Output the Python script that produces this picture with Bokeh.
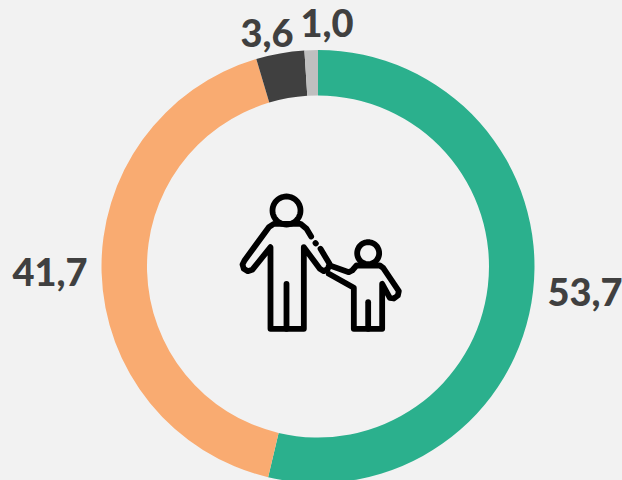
import math
from bokeh.plotting import figure
from bokeh.embed import file_html
from bokeh.resources import INLINE
from bokeh.core.properties import value
from bokeh.models import ColumnDataSource, Range1d

categories = ["A", "B", "C", "D"]
values = [53.7, 41.7, 3.6, 1.0]
labels = ["53,7", "41,7", "3,6", "1,0"]
colors = ["#2BB08D", "#F9AB71", "#404040", "#BFBFBF"]
BG = "#F2F2F2"
W, H = 622, 480
cx, cy, r_out, r_in = 317.5, 266, 216.5, 171
label_x = [547, 12, 240, 300]
label_y = [291, 271, 32, 22]

p = figure(width=W, height=H, output_backend="svg", toolbar_location=None,
           x_range=Range1d(0, W), y_range=Range1d(0, H), min_border=0,
           background_fill_color=BG, border_fill_color=BG, outline_line_color=None)
p.axis.visible = False
p.grid.visible = False

cum = [0]
for v in values:
    cum.append(cum[-1] + v)
total = cum[-1]
start = [math.pi / 2 - 2 * math.pi * c / total for c in cum[1:]]
end = [math.pi / 2 - 2 * math.pi * c / total for c in cum[:-1]]
src = ColumnDataSource(dict(cat=categories, start=start, end=end, color=colors))
p.annular_wedge(x=cx, y=H - cy, inner_radius=r_in, outer_radius=r_out, start_angle="start",
                end_angle="end", direction="anticlock", fill_color="color", line_color=None, source=src)

# pictogram, traced in a zoomed crop
def Z(pts):
    return [220 + x / 3 for x, _ in pts], [H - (180 + y / 3) for _, y in pts]

def circle_pts(zx, zy, zr):
    return [(zx + zr * math.cos(i * math.pi / 24), zy + zr * math.sin(i * math.pi / 24)) for i in range(49)]

paths = [
    circle_pts(198, 90, 42),
    [(272, 168), (258, 145), (240, 130), (160, 130), (145, 140), (72, 240), (66, 252), (70, 265), (82, 272),
     (95, 268), (150, 200), (150, 445), (250, 445), (250, 200), (298, 265), (310, 272), (322, 265), (327, 250),
     (300, 205)],
    [(285, 188), (286, 189)],
    [(198, 310), (198, 445)],
    circle_pts(443, 218, 33),
    [(328, 255), (385, 275), (395, 270), (408, 255), (478, 255), (488, 262), (535, 332), (532, 345), (520, 354),
     (508, 352), (485, 310), (485, 445), (400, 445), (400, 322), (325, 280)],
    [(443, 365), (443, 445)],
]
xs, ys = zip(*[Z(q) for q in paths])
p.multi_line(list(xs), list(ys), line_color="#000000", line_width=5.8, line_join="round", line_cap="round")

p.text(x=label_x, y=[H - y for y in label_y], text=labels, text_font=value("Lato Black"),
       text_font_style="normal", text_font_size="38px", text_color="#404040",
       text_align="left", text_baseline="middle")

html = file_html(p, INLINE)
html = html.replace("<body>", '<body style="margin:0;overflow:hidden;background:#F2F2F2">')
open("out.html", "w").write(html)
